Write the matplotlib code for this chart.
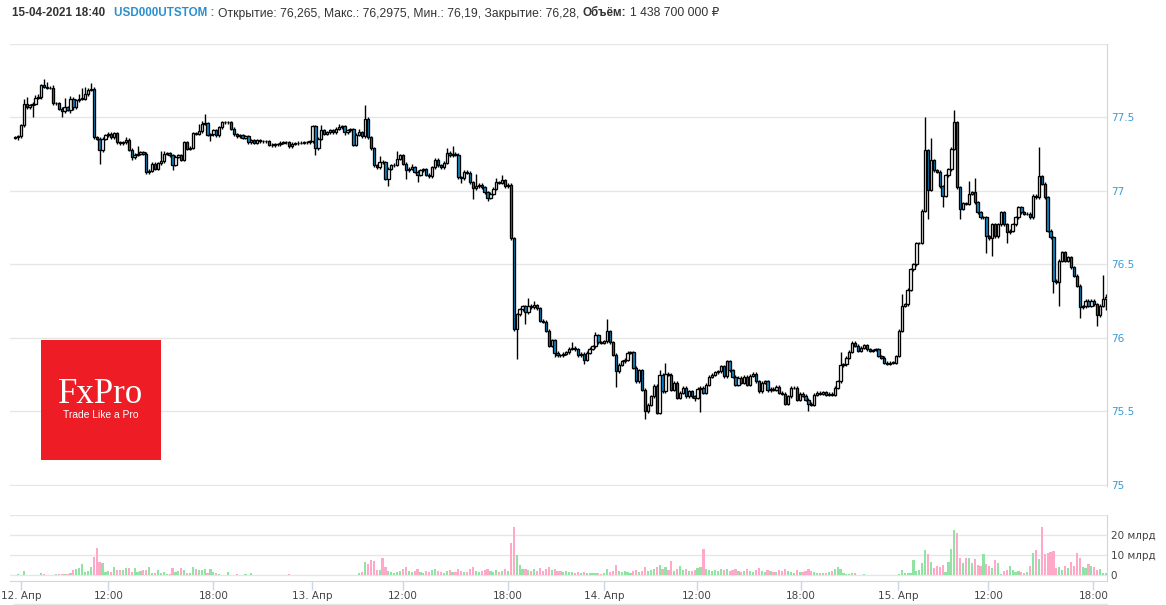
import numpy as np
import matplotlib
matplotlib.use("Agg")
import matplotlib.pyplot as plt
from matplotlib.patches import Rectangle
from matplotlib.lines import Line2D

# 10-minute candles, USD000UTSTOM, 12-15 Apr 2021
first_open = 77.36
closes = [
    77.364, 77.368, 77.443, 77.586, 77.568, 77.580, 77.591, 77.632, 77.636, 77.716,
    77.705, 77.700, 77.698, 77.595, 77.595, 77.557, 77.541, 77.568, 77.550, 77.625,
    77.568, 77.614, 77.625, 77.625, 77.655, 77.686, 77.693, 77.364, 77.352, 77.273,
    77.352, 77.375, 77.386, 77.364, 77.391, 77.330, 77.323, 77.330, 77.345, 77.277,
    77.227, 77.243, 77.250, 77.261, 77.250, 77.125, 77.136, 77.182, 77.148, 77.186,
    77.200, 77.250, 77.255, 77.239, 77.177, 77.232, 77.239, 77.209, 77.330, 77.284,
    77.291, 77.391, 77.386, 77.405, 77.455, 77.459, 77.380, 77.382, 77.409, 77.375,
    77.432, 77.466, 77.466, 77.466, 77.420, 77.382, 77.368, 77.375, 77.359, 77.368,
    77.330, 77.341, 77.325, 77.341, 77.336, 77.334, 77.336, 77.311, 77.307, 77.314,
    77.314, 77.325, 77.330, 77.330, 77.300, 77.318, 77.323, 77.325, 77.327, 77.330,
    77.330, 77.334, 77.439, 77.289, 77.352, 77.409, 77.386, 77.398, 77.409, 77.398,
    77.420, 77.432, 77.439, 77.398, 77.409, 77.416, 77.312, 77.380, 77.398, 77.371,
    77.489, 77.364, 77.289, 77.171, 77.159, 77.198, 77.193, 77.080, 77.148, 77.171,
    77.175, 77.216, 77.239, 77.182, 77.137, 77.148, 77.159, 77.130, 77.107, 77.137,
    77.144, 77.107, 77.098, 77.159, 77.209, 77.171, 77.159, 77.189, 77.257, 77.239,
    77.250, 77.243, 77.091, 77.084, 77.130, 77.121, 77.057, 77.016, 77.030, 77.039,
    77.023, 76.989, 76.950, 76.978, 77.012, 77.057, 77.053, 77.069, 77.030, 77.039,
    76.676, 76.058, 76.160, 76.194, 76.213, 76.172, 76.217, 76.206, 76.222, 76.199,
    76.115, 76.108, 76.047, 75.945, 75.985, 75.899, 75.881, 75.880, 75.893, 75.902,
    75.925, 75.932, 75.921, 75.880, 75.893, 75.852, 75.898, 75.925, 75.943, 76.016,
    75.970, 75.966, 75.977, 76.045, 75.970, 75.886, 75.773, 75.818, 75.841, 75.852,
    75.898, 75.902, 75.796, 75.705, 75.780, 75.648, 75.500, 75.546, 75.603, 75.675,
    75.489, 75.750, 75.637, 75.757, 75.750, 75.648, 75.693, 75.591, 75.625, 75.659,
    75.603, 75.637, 75.603, 75.591, 75.653, 75.659, 75.625, 75.682, 75.734, 75.750,
    75.766, 75.773, 75.807, 75.739, 75.841, 75.780, 75.734, 75.682, 75.727, 75.693,
    75.734, 75.682, 75.743, 75.757, 75.705, 75.637, 75.693, 75.705, 75.644, 75.653,
    75.648, 75.666, 75.625, 75.621, 75.553, 75.603, 75.659, 75.659, 75.580, 75.621,
    75.607, 75.580, 75.553, 75.546, 75.614, 75.625, 75.621, 75.630, 75.614, 75.621,
    75.614, 75.659, 75.705, 75.813, 75.820, 75.865, 75.904, 75.967, 75.945, 75.911,
    75.933, 75.949, 75.922, 75.911, 75.917, 75.922, 75.876, 75.865, 75.831, 75.824,
    75.831, 75.831, 75.876, 76.047, 76.217, 76.228, 76.326, 76.467, 76.501, 76.644,
    76.644, 76.864, 77.273, 77.007, 77.205, 77.137, 77.130, 77.030, 76.966, 77.103,
    77.144, 77.284, 77.466, 77.023, 76.876, 76.916, 76.910, 76.978, 76.989, 76.921,
    76.853, 76.819, 76.819, 76.689, 76.676, 76.773, 76.689, 76.773, 76.853, 76.773,
    76.717, 76.728, 76.773, 76.819, 76.887, 76.853, 76.842, 76.842, 76.819, 76.966,
    76.955, 77.098, 77.046, 76.955, 76.728, 76.683, 76.387, 76.376, 76.524, 76.580,
    76.524, 76.546, 76.478, 76.421, 76.353, 76.206, 76.213, 76.251, 76.217, 76.251,
    76.228, 76.153, 76.217, 76.265, 76.280,
]
# typical wick length, plus the candles with a visibly longer wick
short_wick = 0.01
upper_wicks = {
    3: 0.04, 4: 0.05, 7: 0.02, 8: 0.02, 10: 0.04, 11: 0.03, 13: 0.02, 17: 0.06,
    19: 0.02, 22: 0.03, 23: 0.07, 24: 0.05, 26: 0.04, 38: 0.02, 42: 0.05, 50: 0.07,
    51: 0.02, 63: 0.05, 64: 0.02, 65: 0.06, 105: 0.04, 111: 0.02, 118: 0.02,
    120: 0.09, 125: 0.04, 131: 0.05, 136: 0.02, 148: 0.03, 150: 0.05, 158: 0.08,
    165: 0.03, 167: 0.04, 176: 0.05, 178: 0.03, 191: 0.04, 199: 0.02, 203: 0.08,
    221: 0.03, 223: 0.07, 283: 0.09, 304: 0.08, 312: 0.23, 314: 0.15, 322: 0.08,
    327: 0.09, 329: 0.10, 351: 0.20, 373: 0.16, 374: 0.018,
}
lower_wicks = {
    1: 0.02, 6: 0.08, 16: 0.04, 19: 0.02, 20: 0.02, 29: 0.09, 40: 0.02, 54: 0.04,
    67: 0.04, 103: 0.05, 113: 0.02, 128: 0.05, 134: 0.06, 138: 0.05, 153: 0.03,
    157: 0.07, 162: 0.02, 172: 0.20, 175: 0.08, 185: 0.03, 195: 0.03, 206: 0.11,
    216: 0.05, 233: 0.02, 235: 0.16, 272: 0.05, 313: 0.20, 318: 0.08, 324: 0.07,
    333: 0.11, 335: 0.12, 340: 0.07, 356: 0.08, 358: 0.16, 365: 0.07, 371: 0.07,
    374: 0.075,
}
# volume, млрд ₽
volumes = [
    0, 0.5, 0, 2.0, 0, 0, 0, 0, 0, 1.0,
    0.5, 0, 0, 0, 0.3, 0.3, 0.3, 0.3, 0.5, 1.2,
    2.5, 3.0, 3.7, 5.5, 1.7, 2.2, 3.8, 9.2, 13.7, 6.3,
    6.2, 1.7, 2.0, 1.5, 4.0, 2.5, 2.5, 2.5, 3.5, 3.5,
    1.5, 3.3, 1.7, 2.0, 2.5, 2.5, 4.0, 1.0, 1.0, 2.3,
    1.0, 1.7, 0.5, 0.5, 3.5, 1.3, 2.0, 3.5, 2.5, 0.8,
    0.8, 4.0, 3.0, 2.5, 2.3, 3.0, 0.8, 3.0, 1.5, 0.8,
    0.5, 0, 0, 1.5, 0, 0, 0.5, 0, 0, 0.5,
    0, 1.0, 0, 0, 0, 0, 0, 0, 0, 0,
    0, 0, 0, 0, 0.5, 0, 0, 0, 0, 0,
    0, 0, 0, 0, 0, 0, 0, 0, 0, 0,
    0, 0, 0, 0, 0, 0, 0, 0, 1.0, 1.5,
    6.7, 5.5, 7.5, 7.2, 2.5, 2.5, 8.3, 3.8, 2.0, 1.7,
    1.0, 1.5, 2.0, 3.0, 4.0, 2.0, 1.5, 2.0, 3.0, 1.5,
    1.0, 2.0, 1.5, 2.5, 3.0, 2.0, 1.5, 1.0, 2.0, 2.5,
    1.5, 1.5, 3.0, 2.0, 1.5, 1.5, 3.0, 4.0, 2.0, 1.5,
    2.0, 2.5, 3.0, 2.0, 1.5, 2.5, 1.5, 2.0, 3.0, 2.0,
    16.0, 24.0, 10.0, 5.0, 3.0, 3.0, 2.5, 2.0, 3.0, 2.0,
    3.5, 2.0, 3.0, 4.0, 2.5, 3.0, 2.0, 2.0, 1.5, 2.0,
    1.5, 1.5, 1.0, 1.5, 1.0, 1.5, 1.0, 0.8, 0.8, 1.2,
    1.0, 0.5, 0.8, 3.0, 1.5, 2.0, 5.0, 2.0, 1.5, 2.0,
    1.5, 1.0, 2.0, 2.5, 1.5, 2.0, 4.0, 2.0, 2.5, 3.0,
    4.0, 5.0, 3.0, 4.0, 2.5, 7.0, 2.0, 3.0, 4.5, 2.5,
    3.0, 2.0, 2.0, 2.5, 3.5, 4.0, 13.0, 3.0, 2.5, 2.0,
    2.5, 2.0, 3.0, 2.5, 3.0, 2.0, 2.5, 3.0, 2.0, 1.5,
    2.0, 3.0, 2.0, 1.5, 2.5, 3.5, 2.0, 1.5, 2.5, 2.0,
    1.5, 1.5, 2.5, 2.0, 3.0, 2.0, 1.5, 1.0, 2.5, 1.5,
    1.5, 2.0, 3.0, 2.0, 1.5, 1.0, 1.0, 0.8, 1.0, 1.5,
    2.0, 3.0, 4.0, 3.0, 1.0, 0.5, 0.3, 1.0, 1.0, 0,
    0, 0.5, 0, 0, 0, 0, 0, 0, 0, 0,
    0, 0, 0, 0.3, 2.5, 1.0, 1.0, 1.0, 7.5, 2.2,
    2.5, 5.8, 12.5, 10.5, 6.5, 3.7, 4.5, 4.0, 5.2, 1.5,
    6.7, 13.0, 22.5, 20.8, 8.3, 5.8, 8.3, 8.3, 5.8, 7.8,
    5.0, 4.5, 10.5, 5.3, 4.5, 3.3, 7.5, 5.8, 0.5, 2.2,
    2.5, 4.5, 2.5, 1.7, 2.2, 1.7, 1.2, 1.5, 4.5, 10.8,
    12.5, 8.0, 24.2, 10.5, 11.2, 11.7, 12.2, 3.7, 3.8, 2.5,
    4.5, 3.3, 6.7, 4.5, 11.2, 8.3, 4.2, 3.3, 5.5, 4.5,
    4.2, 2.5, 2.8, 1.2, 1.0,
]
# x ticks sit on candle slots (ordinal time axis, 07:00 session start)
tick_pos = [2.2, 32, 68, 101.9, 133, 169, 201.9, 233.8, 269.5, 302.8, 333.7, 369.7]
tick_labels = ["12. Апр", "12:00", "18:00", "13. Апр", "12:00", "18:00",
               "14. Апр", "12:00", "18:00", "15. Апр", "12:00", "18:00"]
price_ticks = [75, 75.5, 76, 76.5, 77, 77.5, 78]
price_labels = ["75", "75.5", "76", "76.5", "77", "77.5", ""]
vol_ticks = [0, 10, 20, 30]
vol_labels = ["0", "10 млрд", "20 млрд", ""]

W, H = 1166, 605
GRID = "#e6e6e6"
AXLINE = "#ccd6eb"
BLUE = "#0f8fd0"
UP_VOL = "#90e3a2"
DN_VOL = "#ffa8c8"

opens = [first_open] + closes[:-1]
n = len(closes)
x = np.arange(n)
o = np.array(opens)
c = np.array(closes)
hi = np.array([max(o[i], c[i]) + upper_wicks.get(i, short_wick) for i in range(n)])
lo = np.array([min(o[i], c[i]) - lower_wicks.get(i, short_wick) for i in range(n)])
up = c >= o

fig = plt.figure(figsize=(W / 100, H / 100), dpi=100)
ax = fig.add_axes([10 / W, (H - 485.5) / H, 1097 / W, 442 / H])
vax = fig.add_axes([10 / W, (H - 581) / H, 1097 / W, 66 / H])

x_left = (10 - 15) / 2.917
x_right = (1107 - 15) / 2.917

# price panel
ax.vlines(x, lo, hi, color="black", lw=1.0, zorder=2)
ax.bar(x, np.maximum(np.abs(c - o), 0.002), bottom=np.minimum(o, c), width=0.8,
       color=np.where(up, "white", BLUE), edgecolor="black", linewidth=0.95, zorder=3)
ax.set_xlim(x_left, x_right)
ax.set_ylim(74.996, 78.0)
ax.set_xticks([])
ax.yaxis.tick_right()
ax.set_yticks(price_ticks, price_labels)
ax.tick_params(axis="y", length=0, pad=2.6, labelsize=7.5, labelcolor="#3a9ad6")
ax.grid(True, axis="y", color=GRID, lw=1, zorder=0)
for s in ("top", "left", "bottom"):
    ax.spines[s].set_visible(False)
ax.spines["right"].set_color(AXLINE)

# volume panel
vax.bar(x, volumes, width=0.75, color=np.where(up, UP_VOL, DN_VOL), zorder=2)
vax.set_xlim(x_left, x_right)
vax.set_ylim(-3, 30)
vax.yaxis.tick_right()
vax.set_yticks(vol_ticks, vol_labels)
vax.tick_params(axis="y", length=0, pad=2.6, labelsize=7.5, labelcolor="#444444")
vax.grid(True, axis="y", color=GRID, lw=1, zorder=0)
vax.set_xticks(tick_pos, tick_labels)
vax.tick_params(axis="x", direction="out", length=6.5, width=1, color=AXLINE,
                pad=1, labelsize=7.5, labelcolor="#444444")
for s in ("top", "left"):
    vax.spines[s].set_visible(False)
vax.spines["right"].set_color(AXLINE)
vax.spines["bottom"].set_color(AXLINE)

fig.add_artist(Line2D([14 / W, 1107 / W], [1 - 604 / H] * 2, color=GRID, lw=1))

# FxPro logo
fig.add_artist(Rectangle((41 / W, 1 - 460 / H), 120 / W, 120 / H, transform=fig.transFigure,
                         facecolor="#ee1c25", edgecolor="none", zorder=5))
fig.text(101 / W, 1 - 403 / H, "FxPro", color="white", fontsize=25,
         family=["Liberation Serif", "DejaVu Serif"], ha="center", va="baseline", zorder=6)
fig.text(101 / W, 1 - 418 / H, "Trade Like a Pro", color="white", fontsize=7.4,
         family=["Liberation Sans", "DejaVu Sans"], ha="center", va="baseline", zorder=6)

# header line
hfam = ["Liberation Sans", "DejaVu Sans"]
pieces = [
    ("15-04-2021 18:40", "bold", "#333333", 0, 8.4),
    ("USD000UTSTOM :", "bold", "#2a8fcf", 9, 8.4),
    ("Открытие: 76,265, Макс.: 76,2975, Мин.: 76,19, Закрытие: 76,28,", "normal", "#333333", 4, 8.7),
    ("Объём:", "bold", "#333333", 3, 8.4),
    ("1 438 700 000 ₽", "normal", "#333333", 4, 8.7),
]
prev = None
for text, weight, color, gap, size in pieces:
    if prev is None:
        prev = fig.text(12 / W, 1 - 16.5 / H, text, fontsize=size, fontweight=weight,
                        color=color, family=hfam, ha="left", va="baseline")
    else:
        prev = ax.annotate(text, xy=(1, 0), xycoords=prev, xytext=(gap * 0.72, 0),
                           textcoords="offset points", fontsize=size, fontweight=weight,
                           color=color, family=hfam, ha="left", va="bottom",
                           annotation_clip=False)

fig.savefig("out.png", dpi=100)
